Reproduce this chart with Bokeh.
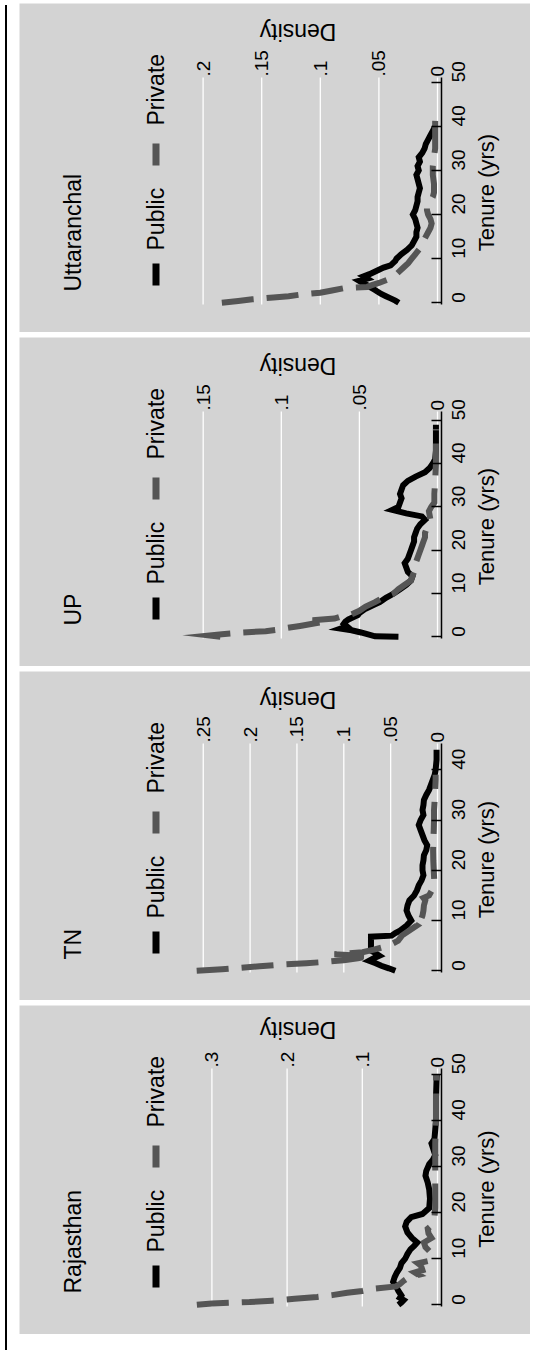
import math
from bokeh.plotting import figure
from bokeh.models import (Range1d, LinearAxis, FixedTicker, Label, BoxAnnotation,
                          CustomJSTickFormatter, Div, Spacer)
from bokeh.layouts import row, column
from bokeh.embed import file_html
from bokeh.resources import INLINE

# ---------------- data ----------------
states = ["Uttaranchal", "UP", "TN", "Rajasthan"]
series_names = ["Public", "Private"]

utt_public_tenure = [0, 0.5, 1, 1.5, 2, 2.5, 3, 3.5, 4, 4.5, 5, 5.5, 6, 6.5, 7, 7.5, 8, 8.5, 9, 9.5, 10,
                     11, 12, 12.5, 13, 14, 15, 16, 17, 18, 19, 20, 21, 22, 23, 24, 25, 26, 27, 28, 29,
                     30, 31, 32, 33, 34, 35, 36, 37, 38, 39, 40]
utt_public_density = [0.033, 0.036, 0.040, 0.044, 0.048, 0.051, 0.054, 0.057, 0.060, 0.064, 0.067, 0.060,
                      0.063, 0.058, 0.054, 0.050, 0.046, 0.040, 0.038, 0.036, 0.035, 0.031, 0.026, 0.024,
                      0.022, 0.020, 0.018, 0.018, 0.017, 0.018, 0.019, 0.021, 0.019, 0.018, 0.017, 0.017,
                      0.016, 0.015, 0.016, 0.017, 0.018, 0.016, 0.017, 0.015, 0.016, 0.013, 0.011, 0.010,
                      0.008, 0.006, 0.004, 0.002]
utt_private_tenure = [0, 0.4, 0.8, 1.2, 1.5, 1.9, 2.3, 2.8, 3.3, 3.6, 4, 4.5, 5.2, 6, 7, 8, 9, 10, 11, 12,
                      13, 14, 15, 16, 17, 18, 19, 20, 21, 22, 23, 24, 25, 27, 29, 31, 33, 35, 38, 41, 44]
utt_private_density = [0.184, 0.170, 0.158, 0.140, 0.127, 0.116, 0.100, 0.090, 0.080, 0.060, 0.056, 0.050,
                       0.043, 0.037, 0.033, 0.029, 0.025, 0.022, 0.019, 0.016, 0.013, 0.012, 0.010, 0.008,
                       0.006, 0.005, 0.006, 0.008, 0.009, 0.009, 0.006, 0.004, 0.003, 0.003, 0.004, 0.004,
                       0.003, 0.002, 0.002, 0.002, 0.0015]

up_public_tenure = [0, 0.1, 0.6, 1, 1.5, 1.9, 2.4, 3, 3.5, 4, 4.5, 5, 5.5, 6, 6.5, 7, 7.5, 8, 8.5, 9, 10,
                    11, 12, 13, 14, 15, 16, 17, 18, 19, 20, 21, 22, 23, 24, 25, 26, 27, 27.8, 28.5, 29.3,
                    30, 31, 32, 33, 34, 35, 36, 37, 38, 39, 40, 41, 43, 46, 49]
up_public_density = [0.025, 0.040, 0.045, 0.049, 0.055, 0.062, 0.058, 0.060, 0.059, 0.057, 0.054, 0.051,
                     0.050, 0.048, 0.046, 0.043, 0.040, 0.037, 0.035, 0.033, 0.028, 0.024, 0.020, 0.017,
                     0.016, 0.019, 0.020, 0.021, 0.019, 0.018, 0.017, 0.016, 0.015, 0.015, 0.014, 0.013,
                     0.011, 0.008, 0.010, 0.020, 0.029, 0.025, 0.024, 0.023, 0.024, 0.023, 0.022, 0.019,
                     0.014, 0.008, 0.005, 0.003, 0.0015, 0.001, 0.001, 0.001]
up_private_tenure = [0, 0.3, 0.6, 1.0, 1.3, 1.6, 2.0, 2.5, 3.0, 3.5, 3.8, 4.2, 4.8, 5.2, 6, 7, 8, 9, 10, 11,
                     12, 13, 14, 15, 16, 17, 18, 19, 20, 21, 22, 23, 24, 25, 26, 27, 28, 29, 30, 31, 33,
                     36, 40, 44, 48]
up_private_density = [0.139, 0.146, 0.138, 0.125, 0.110, 0.103, 0.097, 0.088, 0.080, 0.072, 0.080, 0.066,
                      0.061, 0.055, 0.050, 0.046, 0.040, 0.035, 0.028, 0.025, 0.021, 0.017, 0.016, 0.015,
                      0.016, 0.014, 0.013, 0.012, 0.011, 0.010, 0.009, 0.008, 0.008, 0.007, 0.006, 0.0045,
                      0.005, 0.0055, 0.004, 0.002, 0.002, 0.0015, 0.001, 0.001, 0.001]

tn_public_tenure = [0, 0.5, 1, 1.5, 2, 2.5, 3, 3.5, 4, 5, 6, 6.8, 7, 7.5, 8, 9, 10, 11, 12, 13, 14, 15, 16,
                    17, 18, 19, 20, 21, 22, 23, 24, 25, 26, 27, 28, 29, 30, 31, 32, 33, 34, 35, 36, 37,
                    38, 39, 40, 42, 44]
tn_public_density = [0.045, 0.052, 0.060, 0.066, 0.073, 0.068, 0.062, 0.066, 0.071, 0.071, 0.071, 0.071,
                     0.049, 0.045, 0.040, 0.033, 0.028, 0.031, 0.033, 0.032, 0.030, 0.025, 0.022, 0.020,
                     0.017, 0.015, 0.016, 0.016, 0.015, 0.0145, 0.012, 0.011, 0.014, 0.016, 0.018, 0.020,
                     0.018, 0.015, 0.016, 0.015, 0.0145, 0.012, 0.009, 0.007, 0.005, 0.003, 0.002, 0.001,
                     0.001]
tn_private_tenure = [0, 0.3, 0.6, 0.9, 1.2, 1.5, 1.8, 2.1, 2.5, 2.9, 3.3, 3.7, 4.2, 4.7, 5.2, 6, 7, 8, 9,
                     9.5, 10, 11, 12, 13, 14, 14.5, 15, 16, 17, 18, 20, 22, 24, 26, 28, 30, 32, 34, 36,
                     38, 39]
tn_private_density = [0.257, 0.230, 0.210, 0.190, 0.170, 0.140, 0.118, 0.100, 0.085, 0.072, 0.110, 0.080,
                      0.068, 0.058, 0.050, 0.042, 0.038, 0.030, 0.022, 0.026, 0.018, 0.016, 0.015, 0.0145,
                      0.013, 0.015, 0.009, 0.006, 0.004, 0.0035, 0.004, 0.0045, 0.0047, 0.0045, 0.004,
                      0.0037, 0.0037, 0.003, 0.0025, 0.002, 0.002]

raj_public_tenure = [0, 0.5, 1, 1.5, 2, 3, 4, 5, 6, 7, 8, 9, 10, 11, 12, 12.8, 13.5, 14.5, 15.7, 17, 18,
                     19, 19.7, 21, 23, 25, 26.5, 28, 29, 30.5, 31.5, 32.5, 34, 35, 36, 38, 40, 45, 50]
raj_public_density = [0.052, 0.048, 0.045, 0.050, 0.048, 0.052, 0.055, 0.059, 0.057, 0.054, 0.050, 0.048,
                      0.043, 0.040, 0.036, 0.031, 0.027, 0.034, 0.040, 0.043, 0.041, 0.035, 0.020, 0.011,
                      0.010, 0.011, 0.013, 0.016, 0.015, 0.011, 0.006, 0.003, 0.006, 0.008, 0.004, 0.003,
                      0.002, 0.002, 0.001]
raj_private_tenure = [0, 0.3, 0.6, 0.9, 1.3, 1.7, 2.1, 2.6, 3.0, 3.5, 4.0, 4.5, 5.2, 6.0, 6.5, 7.0, 7.5,
                      8.5, 9.0, 9.5, 10.5, 11.5, 12.5, 13.5, 14.5, 15.5, 16.5, 17.5, 19, 21, 25, 30, 35,
                      40, 45, 50]
raj_private_density = [0.320, 0.300, 0.250, 0.220, 0.190, 0.160, 0.140, 0.120, 0.100, 0.085, 0.055, 0.050,
                       0.045, 0.038, 0.025, 0.030, 0.020, 0.022, 0.026, 0.012, 0.015, 0.010, 0.016, 0.018,
                       0.008, 0.012, 0.013, 0.006, 0.004, 0.003, 0.003, 0.003, 0.003, 0.002, 0.002, 0.002]

utt_density_ticks = [0, 0.05, 0.1, 0.15, 0.2]
up_density_ticks = [0, 0.05, 0.1, 0.15]
tn_density_ticks = [0, 0.05, 0.1, 0.15, 0.2, 0.25]
raj_density_ticks = [0, 0.1, 0.2, 0.3]
utt_tenure_ticks = [0, 10, 20, 30, 40, 50]
up_tenure_ticks = [0, 10, 20, 30, 40, 50]
tn_tenure_ticks = [0, 10, 20, 30, 40]
raj_tenure_ticks = [0, 10, 20, 30, 40, 50]

x_title = "Tenure (yrs)"
y_title = "Density"

# ---------------- layout / style ----------------
BG = "#d3d3d3"
FONT = "Liberation Sans"
PRIV_COLOR = "#555555"
W, H = 511, 329
PANEL_X = 17            # page x of panel left
ZERO_X = 435            # page x of density 0
AXIS_X = 439            # page x of tenure axis line
FRAME_BOTTOM = 301      # local y of plot-region bottom
T0_LOCAL = 299.3        # local y of tenure 0
ROT_SHIFT = 10          # correction for rotated-text placement

panels = [
    dict(name=states[0], pub=(utt_public_tenure, utt_public_density),
         prv=(utt_private_tenure, utt_private_density), dticks=utt_density_ticks,
         tticks=utt_tenure_ticks, k=1172.0, pxyr=4.41, ftop=74, dens_y=20.5),
    dict(name=states[1], pub=(up_public_tenure, up_public_density),
         prv=(up_private_tenure, up_private_density), dticks=up_density_ticks,
         tticks=up_tenure_ticks, k=1562.0, pxyr=4.33, ftop=74, dens_y=20.5),
    dict(name=states[2], pub=(tn_public_tenure, tn_public_density),
         prv=(tn_private_tenure, tn_private_density), dticks=tn_density_ticks,
         tticks=tn_tenure_ticks, k=937.0, pxyr=5.025, ftop=72, dens_y=20.5),
    dict(name=states[3], pub=(raj_public_tenure, raj_public_density),
         prv=(raj_private_tenure, raj_private_density), dticks=raj_density_ticks,
         tticks=raj_tenure_ticks, k=752.0, pxyr=4.61, ftop=63, dens_y=16.2),
]

fmt_code = """
if (tick == 0) { return "0"; }
var s = tick.toFixed(2).replace(/0+$/, "");
return s.replace(/^0/, "");
"""

figs = []
for cfg in panels:
    k = cfg["k"]
    pxyr = cfg["pxyr"]
    ftop = cfg["ftop"]
    x_start = (ZERO_X - PANEL_X) / k
    x_end = (ZERO_X - (PANEL_X + W)) / k
    y_start = -(H - T0_LOCAL) / pxyr
    y_end = T0_LOCAL / pxyr
    t_bot = -(FRAME_BOTTOM - T0_LOCAL) / pxyr
    t_top = (T0_LOCAL - ftop) / pxyr
    d_axis_loc = (ZERO_X - AXIS_X) / k

    p = figure(width=W, height=H,
               x_range=Range1d(start=x_start, end=x_end),
               y_range=Range1d(start=y_start, end=y_end),
               x_axis_location=None, y_axis_location=None,
               toolbar_location=None, output_backend="svg",
               min_border_left=0, min_border_right=0, min_border_top=0, min_border_bottom=0,
               background_fill_color=BG, border_fill_color=BG, outline_line_color=None)
    p.xgrid.visible = False
    p.ygrid.visible = False

    dt = cfg["dticks"]
    p.segment(x0=dt, y0=[t_bot] * len(dt), x1=dt, y1=[t_top] * len(dt),
              line_color="white", line_width=1.3)

    d_axis = LinearAxis(ticker=FixedTicker(ticks=dt),
                        formatter=CustomJSTickFormatter(code=fmt_code),
                        fixed_location=t_top)
    d_axis.axis_line_color = None
    d_axis.major_tick_line_color = None
    d_axis.major_tick_in = 0
    d_axis.major_tick_out = 0
    d_axis.minor_tick_line_color = None
    d_axis.major_label_orientation = math.pi / 2
    d_axis.major_label_standoff = 1
    d_axis.major_label_text_font = FONT
    d_axis.major_label_text_font_size = "19px"
    d_axis.major_label_text_color = "black"
    p.add_layout(d_axis, "above")

    t_axis = LinearAxis(ticker=FixedTicker(ticks=cfg["tticks"]), fixed_location=d_axis_loc,
                        bounds=(t_bot, t_top))
    t_axis.axis_line_color = "black"
    t_axis.axis_line_width = 1.5
    t_axis.major_tick_line_color = "black"
    t_axis.major_tick_line_width = 1.5
    t_axis.major_tick_in = 10
    t_axis.major_tick_out = 0
    t_axis.minor_tick_line_color = None
    t_axis.major_label_orientation = math.pi / 2
    t_axis.major_label_standoff = 17
    t_axis.major_label_text_font = FONT
    t_axis.major_label_text_font_size = "19px"
    t_axis.major_label_text_color = "black"
    p.add_layout(t_axis, "right")

    pub_t, pub_d = cfg["pub"]
    prv_t, prv_d = cfg["prv"]
    p.line(pub_d, pub_t, line_color="black", line_width=6, line_join="miter")
    p.line(prv_d, prv_t, line_color=PRIV_COLOR, line_width=6, line_dash="32 13",
           line_join="miter")

    def sx(page_x):
        return page_x - PANEL_X

    def sy(local_y):
        return H - local_y

    common = dict(x_units="screen", y_units="screen", text_font=FONT, text_color="black")
    # panel title
    p.add_layout(Label(x=sx(80.5 - ROT_SHIFT), y=sy(288), text=cfg["name"], angle=90,
                       angle_units="deg", text_font_size="23px", text_align="left",
                       text_baseline="alphabetic", **common))
    # legend
    p.add_layout(BoxAnnotation(left=sx(150), right=sx(157), bottom=sy(282), top=sy(260),
                               left_units="screen", right_units="screen",
                               top_units="screen", bottom_units="screen",
                               fill_color="black", fill_alpha=1.0, line_color=None))
    p.add_layout(Label(x=sx(163 - ROT_SHIFT), y=sy(247), text=series_names[0], angle=90,
                       angle_units="deg", text_font_size="23px", text_align="left",
                       text_baseline="alphabetic", **common))
    p.add_layout(BoxAnnotation(left=sx(150), right=sx(157), bottom=sy(162), top=sy(140),
                               left_units="screen", right_units="screen",
                               top_units="screen", bottom_units="screen",
                               fill_color=PRIV_COLOR, fill_alpha=1.0, line_color=None))
    p.add_layout(Label(x=sx(163 - ROT_SHIFT), y=sy(122), text=series_names[1], angle=90,
                       angle_units="deg", text_font_size="23px", text_align="left",
                       text_baseline="alphabetic", **common))
    # axis titles
    p.add_layout(Label(x=sx(484), y=sy((ftop + FRAME_BOTTOM) / 2.0 + 1.5), text=x_title,
                       angle=90, angle_units="deg", text_font_size="22px",
                       text_align="center", text_baseline="middle", **common))
    p.add_layout(Label(x=sx(295.5), y=sy(cfg["dens_y"] + 8), text=y_title,
                       angle=180, angle_units="deg", text_font_size="23px",
                       text_align="center", text_baseline="middle", **common))
    figs.append(p)

left_rule = Div(width=2, height=1345, styles={"background-color": "black"})
layout = row(children=[left_rule, Spacer(width=7),
                       column(children=[Spacer(height=3), column(children=figs, spacing=5)])])

open("out.html", "w").write(file_html(layout, INLINE))
